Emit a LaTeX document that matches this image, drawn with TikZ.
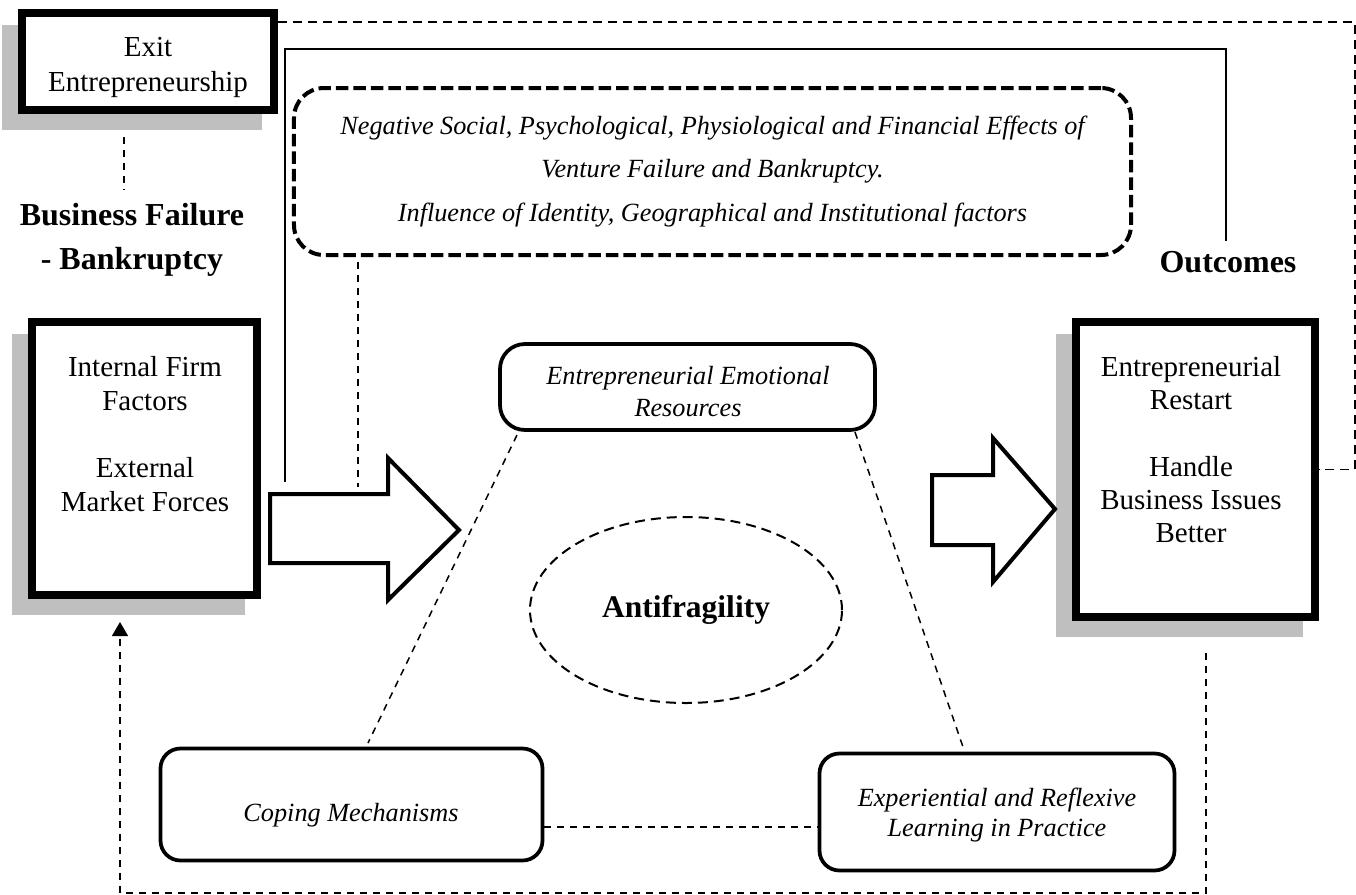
\documentclass[tikz,border=0pt]{standalone}
\usepackage{fontspec}
\setmainfont{Liberation Serif}
\usetikzlibrary{arrows.meta,shapes.geometric,backgrounds}
\definecolor{shadowgray}{RGB}{191,191,191}
\begin{document}
\begin{tikzpicture}[x=0.4pt,y=-0.4pt,
  heavybox/.style={draw,line width=3.2pt,fill=white,inner sep=0pt},
  boxtext/.style={align=center,inner sep=0pt,font=\fontsize{11.6}{13.6}\selectfont},
  softbox/.style={draw,line width=1.5pt,rounded corners=8pt,inner sep=0pt},
  softtext/.style={align=center,inner sep=0pt,font=\fontsize{10.5}{12.4}\selectfont\itshape},
  heading/.style={inner sep=0pt,font=\fontsize{12.8}{15}\selectfont\bfseries},
  blockarrow/.style={draw,line width=1.6pt,fill=white,line join=miter},
  thindash/.style={line width=0.6pt,dash pattern=on 2.8pt off 2.4pt},
  loopdash/.style={line width=0.7pt,dash pattern=on 3.6pt off 2.4pt},
  heavydash/.style={line width=1.6pt,dash pattern=on 5pt off 2pt},
  linkline/.style={line width=1pt,line join=miter}]
\useasboundingbox (0,0) rectangle (1356,895);

% framed boxes with offset shadows
\node[heavybox,minimum width=100.8pt,minimum height=38.8pt] (exit) at (148,61.5) {};
\node[boxtext,font=\fontsize{11.6}{14}\selectfont] (exittxt) at (148,67.5)
  {Exit\\Entrepreneurship};
\node[heavybox,minimum width=90pt,minimum height=109.2pt] (internal) at (144.5,458.5) {};
\node[boxtext] (internaltxt) at (145,434)
  {Internal Firm\\Factors\\[13.2pt]External\\Market Forces};
\node[heavybox,minimum width=95.6pt,minimum height=118pt] (restart) at (1195.5,469.5) {};
\node[boxtext,font=\fontsize{11.6}{13.2}\selectfont] (restarttxt) at (1191,450)
  {Entrepreneurial\\Restart\\[13.6pt]Handle\\Business Issues\\Better};

\begin{scope}[on background layer]
  \foreach \n in {exit,internal,restart}
    \fill[shadowgray] ([shift={(-16,16)}]\n.north west) rectangle ([shift={(-16,16)}]\n.south east);
\end{scope}

% headings
\node[heading] (bfail) at (132,215) {Business Failure};
\node[heading] (bankr) at (132,262) {- Bankruptcy};
\node[heading] (outc) at (1228,262) {Outcomes};

% context box
\node[draw,heavydash,rounded corners=12pt,minimum width=334.8pt,minimum height=66.8pt,
  inner sep=0pt,align=center,font=\fontsize{10.5}{17.4}\selectfont\itshape]
  (context) at (712.5,171.5)
  {Negative Social, Psychological, Physiological and Financial Effects of\\
   Venture Failure and Bankruptcy.\\
   Influence of Identity, Geographical and Institutional factors};

% inner resources
\node[softbox,rounded corners=10pt,minimum width=150pt,minimum height=34.4pt] (emo) at (687.5,387) {};
\node[softtext,font=\fontsize{10.5}{12.8}\selectfont\itshape] (emotxt) at (688,392)
  {Entrepreneurial Emotional\\Resources};
\node[softbox,minimum width=152.8pt,minimum height=44.8pt] (coping) at (351.5,804.5) {};
\node[softtext] (copingtxt) at (351,815) {Coping Mechanisms};
\node[softbox,minimum width=142pt,minimum height=46.8pt] (exper) at (997,812) {};
\node[softtext,font=\fontsize{10.5}{12}\selectfont\itshape] (expertxt) at (997,815)
  {Experiential and Reflexive\\Learning in Practice};
\node[draw,ellipse,line width=0.8pt,dash pattern=on 4pt off 2.4pt,
  minimum width=124.8pt,minimum height=74.4pt,inner sep=0pt,
  font=\fontsize{12.6}{15}\selectfont\bfseries] (anti) at (686,610) {Antifragility};

% block arrows
\draw[blockarrow] (270,494) -- (388,494) -- (388,458) -- (459,530) -- (388,600)
  -- (388,563) -- (270,563) -- cycle;
\draw[blockarrow] (932,475) -- (993,475) -- (993,438) -- (1055,509) -- (993,582)
  -- (993,545) -- (932,545) -- cycle;

% links
\coordinate (ex0) at (124,137);
\coordinate (ex1) at (124,190);
\draw[thindash] (ex0) -- (ex1);

\coordinate (top) at (1355,22);
\draw[loopdash] (exit.east |- top) -- (top) -- (top |- restart.east) -- (restart.east);

\coordinate (s0) at (285,482);
\coordinate (s1) at (285,49);
\coordinate (s2) at (1226,49);
\coordinate (s3) at (1226,241);
\draw[linkline] (s0) -- (s1) -- (s2) -- (s3);

\coordinate (c0) at (358,262);
\coordinate (c1) at (358,487);
\draw[thindash] (c0) -- (c1);

\coordinate (e0) at (517,435);
\coordinate (e1) at (368,743);
\coordinate (e2) at (855,432);
\coordinate (e3) at (963,747);
\draw[thindash] (e0) -- (e1);
\draw[thindash] (e2) -- (e3);

\coordinate (mid) at (0,827);
\draw[thindash] (coping.east |- mid) -- (exper.west |- mid);

\coordinate (b0) at (1206,653);
\coordinate (b1) at (1206,893);
\coordinate (b2) at (120,893);
\coordinate (b3) at (120,622);
\draw[thindash,-{Triangle[length=5.6pt,width=6.4pt]}] (b0) -- (b1) -- (b2) -- (b3);
\end{tikzpicture}
\end{document}
